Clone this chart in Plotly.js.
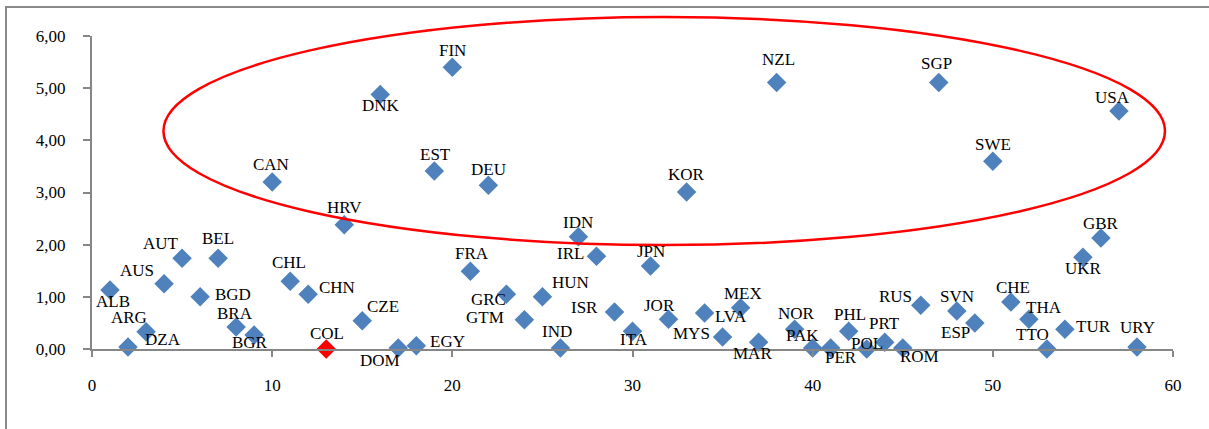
<!DOCTYPE html>
<html>
<head>
<meta charset="utf-8">
<script src="https://cdn.plot.ly/plotly-3.0.1.min.js"></script>
<style>
  html, body { margin: 0; padding: 0; background: #fff; }
  #wrap { position: relative; width: 1209px; height: 429px; overflow: hidden; }
  #chart { position: absolute; left: 0; top: 0; width: 1209px; height: 429px; }
  #frame { position: absolute; left: 5px; top: 6px; width: 1210px; height: 430px;
           border-top: 2px solid #8a8a8a; border-left: 2px solid #8a8a8a; pointer-events: none; }
</style>
</head>
<body>
<div id="wrap"><div id="chart"></div><div id="frame"></div></div>
<script>
// Data (countries sorted by English name, x = rank position)
const countries = ["ALB","DZA","ARG","AUS","AUT","BGD","BEL","BRA","BGR","CAN",
  "CHL","CHN","COL","HRV","CZE","DNK","DOM","EGY","EST","FIN",
  "FRA","DEU","GRC","GTM","HUN","IND","IDN","IRL","ISR","ITA",
  "JPN","JOR","KOR","LVA","MYS","MEX","MAR","NZL","NOR","PAK",
  "PER","PHL","POL","PRT","ROM","RUS","SGP","SVN","ESP","SWE",
  "CHE","THA","TTO","TUR","UKR","GBR","USA","URY"];
const xValues = [1,2,3,4,5,6,7,8,9,10,
  11,12,13,14,15,16,17,18,19,20,
  21,22,23,24,25,26,27,28,29,30,
  31,32,33,34,35,36,37,38,39,40,
  41,42,43,44,45,46,47,48,49,50,
  51,52,53,54,55,56,57,58];
const yValues = [1.13,0.04,0.33,1.25,1.74,1.00,1.74,0.42,0.27,3.20,
  1.30,1.05,0.00,2.38,0.54,4.88,0.02,0.06,3.41,5.40,
  1.49,3.14,1.05,0.56,1.00,0.02,2.15,1.78,0.71,0.34,
  1.59,0.57,3.01,0.69,0.23,0.79,0.13,5.11,0.38,0.02,
  0.02,0.34,0.00,0.13,0.02,0.84,5.11,0.73,0.50,3.60,
  0.90,0.57,0.00,0.38,1.76,2.13,4.56,0.04];
const highlighted = ["COL"];
const xTickVals = [0,10,20,30,40,50,60];
const yTickVals = [0,1,2,3,4,5,6];

// Label placement (pixel offsets from the marker: right, down)
const labelDx = [3,35,-17,-27,-21,33,0,-1,-4,-1,
  -1,29,1,0,21,1,-18,31,1,0,
  2,0,-18,-39,28,-3,0,-26,-30,1,
  0,-9,0,26,-31,2,-6,2,2,-10,
  10,1,0,0,17,-25,-2,0,-19,0,
  2,15,-14,29,1,0,-6,1];
const labelDy = [11,-7,-14,-13,-15,-2,-20,-14,8,-18,
  -19,-7,-16,-17,-14,11,13,-4,-17,-17,
  -18,-16,5,-2,-14,-16,-14,-3,-4,8,
  -15,-14,-17,3,-4,-14,11,-23,-16,-12,
  10,-17,-6,-19,9,-9,-19,-14,10,-17,
  -15,-12,-15,-3,11,-14,-14,-19];

const blue = '#4F81BD', red = '#FF0000', grey = '#868686';
const font = '"Liberation Serif", "Times New Roman", serif';

const trace = {
  x: xValues, y: yValues, mode: 'markers', type: 'scatter',
  cliponaxis: false, hoverinfo: 'skip',
  marker: { symbol: 'diamond', size: 15,
    color: countries.map(c => highlighted.includes(c) ? red : blue),
    line: { width: 0 } }
};

const annotations = countries.map((c, i) => ({
  x: xValues[i], y: yValues[i], xref: 'x', yref: 'y', text: c,
  showarrow: false, xanchor: 'center', yanchor: 'middle',
  xshift: labelDx[i], yshift: -labelDy[i],
  font: { family: font, size: 17, color: '#000' }
}));

const layout = {
  width: 1209, height: 429,
  margin: { l: 91.5, r: 36, t: 36, b: 80 },
  paper_bgcolor: '#fff', plot_bgcolor: '#fff',
  separators: ', ',
  showlegend: false,
  font: { family: font, size: 17, color: '#000' },
  xaxis: { range: [0, 60], tickvals: xTickVals, showgrid: false, zeroline: false,
    showline: true, linecolor: grey, linewidth: 2, ticks: 'outside', ticklen: 6,
    tickcolor: grey, tickwidth: 2, ticklabelstandoff: 14,
    tickfont: { family: font, size: 17, color: '#000' } },
  yaxis: { range: [0, 6], tickvals: yTickVals, tickformat: '.2f', showgrid: false, zeroline: false,
    showline: true, linecolor: grey, linewidth: 2, ticks: 'outside', ticklen: 7,
    tickcolor: grey, tickwidth: 2, ticklabelstandoff: 14,
    tickfont: { family: font, size: 17, color: '#000' } },
  shapes: [{ type: 'circle', xref: 'paper', yref: 'paper',
    x0: 0.0661, x1: 0.9926, y0: 0.332, y1: 1.0607,
    line: { color: red, width: 2.5 }, layer: 'above' }],
  annotations: annotations
};

Plotly.newPlot('chart', [trace], layout, { staticPlot: true, displayModeBar: false });
</script>
</body>
</html>
